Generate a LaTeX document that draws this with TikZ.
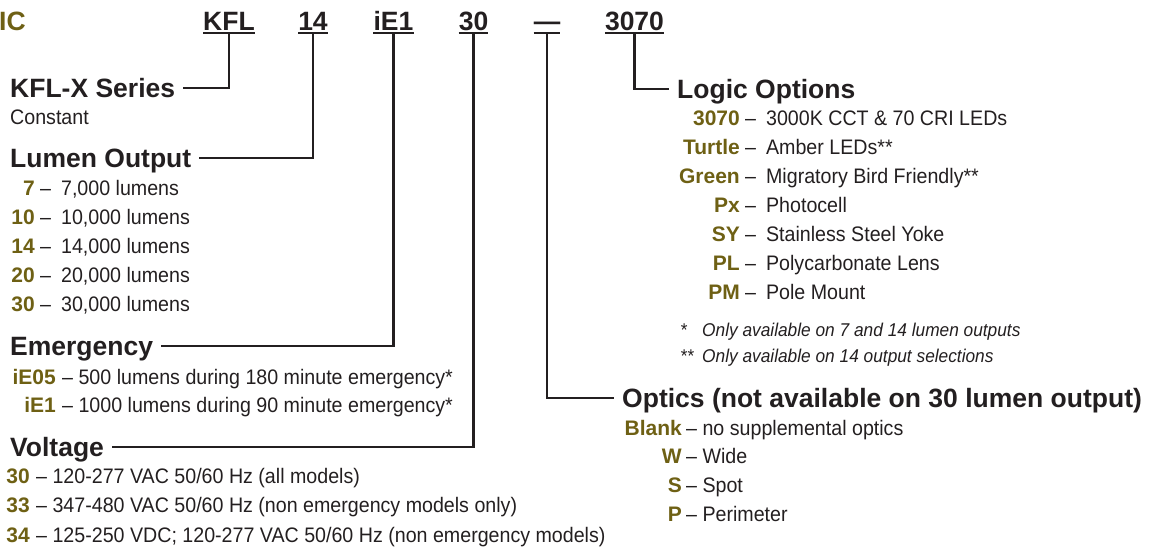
\documentclass[tikz,border=0pt]{standalone}
\usepackage{fontspec}
\setmainfont{Liberation Sans}
\newfontfamily\condfont{Liberation Sans}[FakeStretch=0.935]
\usetikzlibrary{positioning}
\definecolor{codegold}{HTML}{6E6014}
\definecolor{inkblack}{HTML}{231F20}
\tikzset{
  topcode/.style={font=\bfseries\fontsize{26.5}{26.5}\selectfont, text=inkblack, anchor=base, inner sep=0pt, text depth=0pt},
  heading/.style={font=\bfseries\fontsize{26.5}{26.5}\selectfont, text=inkblack, inner xsep=8pt, inner ysep=0pt, text height=19pt, text depth=0pt},
  code/.style={font=\bfseries\fontsize{21}{21}\selectfont, text=codegold, anchor=east, inner sep=0pt, text height=15pt, text depth=0pt},
  desc/.style={font=\condfont\fontsize{21}{21}\selectfont, text=inkblack, inner sep=0pt, text height=15pt, text depth=0pt},
  note/.style={font=\condfont\itshape\fontsize{18.5}{18.5}\selectfont, text=inkblack, anchor=west, inner sep=0pt, text height=13pt, text depth=0pt},
  conn/.style={draw=inkblack, line width=2.6pt},
  uline/.style={draw=inkblack, line width=1.6pt}
}
\begin{document}
\begin{tikzpicture}[x=1pt, y=-1pt]
\useasboundingbox (0,0) rectangle (1162,547);
% top code row
\node[topcode, anchor=base west, text=codegold] (ic) at (-1,30) {IC};
\node[topcode] (tkfl) at (229,30) {KFL};
\node[topcode] (t14) at (313,30) {14};
\node[topcode] (tie1) at (393.5,30) {iE1};
\node[topcode] (t30) at (473.5,30) {30};
\node[topcode] (tdash) at (547,30) {—};
\node[topcode] (t3070) at (634.5,30) {3070};
\foreach \n in {tkfl,t14,tie1,t30,tdash,t3070}
  \draw[uline] ([yshift=-2.5pt]\n.south west) -- ([yshift=-2.5pt]\n.south east);
% left column
\node[heading, anchor=west] (series) at (2,88) {KFL-X Series};
\node[desc, anchor=west] (const) at (10,117) {Constant};
\node[heading, anchor=west] (lumen) at (2,158) {Lumen Output};
\node[code] (lo7) at (35,188) {7};
\node[desc, right=5pt of lo7] (lo7d) {–\hspace{10pt}7,000 lumens};
\node[code] (lo10) at (35,217) {10};
\node[desc, right=5pt of lo10] (lo10d) {–\hspace{10pt}10,000 lumens};
\node[code] (lo14) at (35,246) {14};
\node[desc, right=5pt of lo14] (lo14d) {–\hspace{10pt}14,000 lumens};
\node[code] (lo20) at (35,275) {20};
\node[desc, right=5pt of lo20] (lo20d) {–\hspace{10pt}20,000 lumens};
\node[code] (lo30) at (35,304) {30};
\node[desc, right=5pt of lo30] (lo30d) {–\hspace{10pt}30,000 lumens};
\node[heading, anchor=west] (emerg) at (2,346) {Emergency};
\node[code] (em05) at (56,377) {iE05};
\node[desc, right=6pt of em05] (em05d) {– 500 lumens during 180 minute emergency*};
\node[code] (em1) at (56,405) {iE1};
\node[desc, right=6pt of em1] (em1d) {– 1000 lumens during 90 minute emergency*};
\node[heading, anchor=west] (volt) at (2,447) {Voltage};
\node[code] (v30) at (30,476) {30};
\node[desc, right=6pt of v30] (v30d) {– 120-277 VAC 50/60 Hz (all models)};
\node[code] (v33) at (30,505) {33};
\node[desc, right=6pt of v33] (v33d) {– 347-480 VAC 50/60 Hz (non emergency models only)};
\node[code] (v34) at (30,535) {34};
\node[desc, right=6pt of v34] (v34d) {– 125-250 VDC; 120-277 VAC 50/60 Hz (non emergency models)};
% right column
\node[heading, anchor=west] (logic) at (669,89) {Logic Options};
\node[code] (lg3070) at (740,118) {3070};
\node[desc, right=5pt of lg3070] (lg3070d) {–\hspace{10pt}3000K CCT \& 70 CRI LEDs};
\node[code] (lgturtle) at (740,147) {Turtle};
\node[desc, right=5pt of lgturtle] (lgturtled) {–\hspace{10pt}Amber LEDs**};
\node[code] (lggreen) at (740,176) {Green};
\node[desc, right=5pt of lggreen] (lggreend) {–\hspace{10pt}Migratory Bird Friendly**};
\node[code] (lgpx) at (740,205) {Px};
\node[desc, right=5pt of lgpx] (lgpxd) {–\hspace{10pt}Photocell};
\node[code] (lgsy) at (740,234) {SY};
\node[desc, right=5pt of lgsy] (lgsyd) {–\hspace{10pt}Stainless Steel Yoke};
\node[code] (lgpl) at (740,263) {PL};
\node[desc, right=5pt of lgpl] (lgpld) {–\hspace{10pt}Polycarbonate Lens};
\node[code] (lgpm) at (740,292) {PM};
\node[desc, right=5pt of lgpm] (lgpmd) {–\hspace{10pt}Pole Mount};
\node[note] (n1s) at (680,330) {*};
\node[note] (n1) at (702,330) {Only available on 7 and 14 lumen outputs};
\node[note] (n2s) at (680,356) {**};
\node[note] (n2) at (702,356) {Only available on 14 output selections};
\node[heading, anchor=west] (optics) at (614,398) {Optics (not available on 30 lumen output)};
\node[code] (opblank) at (682,428) {Blank};
\node[desc, right=4pt of opblank] (opblankd) {– no supplemental optics};
\node[code] (opw) at (682,456) {W};
\node[desc, right=4pt of opw] (opwd) {– Wide};
\node[code] (ops) at (682,485) {S};
\node[desc, right=4pt of ops] (opsd) {– Spot};
\node[code] (opp) at (682,514) {P};
\node[desc, right=4pt of opp] (oppd) {– Perimeter};
% connectors
\draw[conn] ([yshift=-3pt]tkfl.south) |- (series.east);
\draw[conn] ([yshift=-3pt]t14.south) |- (lumen.east);
\draw[conn] ([yshift=-3pt]tie1.south) |- (emerg.east);
\draw[conn] ([yshift=-3pt]t30.south) |- (volt.east);
\draw[conn] ([yshift=-3pt]tdash.south) |- (optics.west);
\draw[conn] ([yshift=-3pt]t3070.south) |- (logic.west);
\end{tikzpicture}
\end{document}
